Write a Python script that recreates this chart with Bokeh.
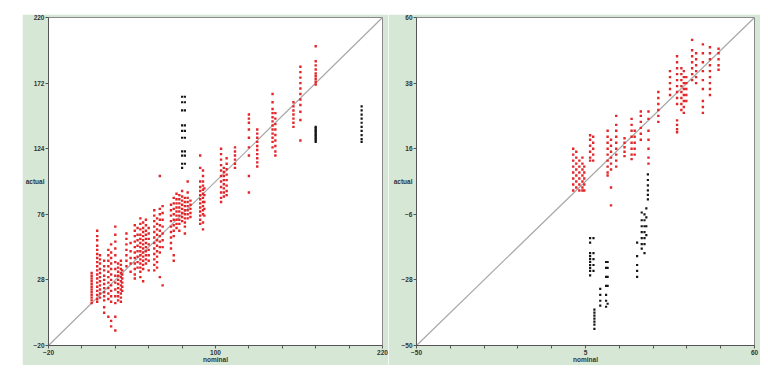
from bokeh.plotting import figure
from bokeh.layouts import row, column, Spacer
from bokeh.models import Range1d, FixedTicker, ColumnDataSource
from bokeh.embed import file_html
from bokeh.resources import INLINE

# ---------------- data ----------------
# left panel range / ticks
L_RANGE = [-20, 220]
L_XTICKS = [-20, 100, 220]
L_XMINOR = [4, 28, 52, 76, 124, 148, 172, 196]
L_YTICKS = [-20, 28, 76, 124, 172, 220]

# left panel red strips: nominal value, actual values
L_red_x = [11, 15, 17, 20, 23, 25, 28, 30, 32, 33, 36, 39, 42, 44, 46, 48, 50, 52,
           56, 58, 60, 62, 68, 70, 72, 74, 76, 78, 80, 82, 89, 91, 92, 104, 106, 108,
           114, 124, 130, 141, 143, 156, 161, 172]
L_red_y = [
    [33, 31, 29, 27, 25, 23, 21, 19, 17, 15, 13, 11],
    [64, 60, 57, 53, 50, 47, 44, 41, 38, 35, 32, 29, 26, 23, 20, 17, 14, 12],
    [46, 43, 40, 36, 33, 30, 27, 24, 21, 18, 15],
    [42, 38, 35, 31, 28, 25, 22, 19, 16, 13, 8, 4],
    [50, 46, 42, 38, 34, 30, 26, 22, 18, 14, 1],
    [54, 48, 44, 40, 36, 32, 28, 24, 20, 16, 12, -2, -6],
    [67, 61, 56, 51, 46, 41, 36, 31, 26, 21, 16, 11, 1, -9],
    [40, 37, 34, 31, 28, 25, 22, 19, 16, 13],
    [42, 39, 36, 33, 30, 27, 24, 21, 18, 15, 12],
    [35, 32, 29, 26, 23, 20],
    [62, 58, 54, 50, 46, 42, 38],
    [55, 49, 44, 40, 34],
    [68, 64, 60, 56, 52, 48, 44, 40, 36, 32, 29],
    [66, 61, 57, 53, 49, 45, 41, 37],
    [73, 69, 65, 61, 58, 55, 52, 49, 46, 43, 40, 37, 34, 30],
    [70, 66, 63, 60, 57, 54, 51, 48, 45, 42, 39, 36, 27],
    [72, 68, 64, 61, 58, 55, 52, 49, 46, 43, 40],
    [66, 62, 58, 54, 50, 46, 42, 35],
    [79, 75, 71, 67, 63, 59, 55, 51, 47, 43, 39, 35],
    [73, 69, 65, 61, 57, 53, 49, 45, 41, 37],
    [104, 80, 76, 72, 68, 64, 60, 56, 52, 48, 30],
    [82, 77, 72, 67, 62, 57, 52, 24],
    [83, 79, 75, 71, 67, 63, 59, 55, 51],
    [88, 84, 80, 76, 72, 68, 64, 60, 46, 42],
    [91, 87, 84, 81, 78, 75, 72, 69, 66],
    [90, 87, 84, 81, 78, 75, 72, 69, 64],
    [93, 89, 86, 83, 80, 77, 74, 71],
    [88, 85, 82, 79, 76, 73, 70, 67, 62],
    [100, 92, 88, 85, 82, 79, 76, 73],
    [86, 83, 80, 77, 74],
    [119, 110, 100, 96, 93, 90, 87, 84, 81, 78, 75, 72, 69],
    [108, 104, 100, 97, 94, 91, 88, 85, 82, 79, 76, 70, 65],
    [95, 90, 85, 80, 75],
    [124, 120, 116, 112, 108, 104, 100, 96, 92, 88, 85],
    [110, 107, 104, 101, 98, 95, 92, 89],
    [117, 113, 109, 105, 101, 97, 93, 90],
    [125, 122, 119, 116, 113, 110],
    [149, 146, 143, 138, 132, 125, 119, 104, 92],
    [138, 135, 132, 129, 126, 123, 120, 117, 114, 111],
    [164, 158, 153, 150, 147, 144, 141, 138, 135, 132, 129, 125],
    [150, 146, 142, 138, 134, 130, 126, 122, 119],
    [158, 155, 152, 149, 146, 143, 140],
    [184, 180, 176, 172, 168, 164, 160, 156, 151, 145, 130],
    [199, 188, 185, 182, 179, 177, 175, 173, 171],
]

# left panel black strips
L_blk_x = [76, 78, 172, 205]
L_blk_y = [
    [162, 158, 152, 141, 137, 132, 122, 119, 113, 110],
    [162, 158, 152, 141, 137, 132, 122, 119, 113],
    [140, 139, 138, 137, 136, 135, 134, 133, 132, 131, 130, 129],
    [155, 152, 149, 146, 143, 140, 137, 134, 131, 129],
]

# right panel range / ticks
R_RANGE = [-50, 60]
R_XTICKS = [-50, 5, 60]
R_XMINOR = [-39, -28, -17, -6, 16, 27, 38, 49]
R_YTICKS = [-50, -28, -6, 16, 38, 60]

R_red_x = [1, 2, 3, 4, 4.6, 6.5, 7.5, 12.2, 13.3, 15, 17.7, 20, 21, 23, 25.5, 28.7,
           32.5, 34.8, 36.2, 37, 37.8, 39.7, 41, 43.2, 45.5, 48.3]
R_red_y = [
    [16, 14, 12, 10, 8, 6, 4, 2],
    [15, 13, 11, 9, 7, 5, 3],
    [12, 10, 8, 6, 4, 2],
    [13, 11, 9, 7, 5, 3, 2],
    [10, 8, 6, 4, 2],
    [20.5, 19, 17, 15, 13, 12],
    [20, 18, 16, 14, 12],
    [22, 20, 18, 16, 14, 12, 10, 8, 7],
    [19, 17, 15, 13, 11, 9, 3, -3],
    [27, 24, 22, 20, 18, 16, 14, 12, 10],
    [19.5, 18, 16.5, 15, 13.5],
    [26, 24, 22, 20, 18, 16, 14, 12.5],
    [22, 20, 18, 16, 14],
    [28.5, 27, 25, 23, 21, 19],
    [28.5, 26, 22, 19, 16, 13, 11],
    [35, 33, 31, 29, 27, 25],
    [42, 40, 38, 36, 34],
    [47, 45, 43, 41, 39, 37, 35, 33, 31, 25.5, 24, 22.5, 21.5],
    [43, 41, 39, 37, 35, 33, 31, 29],
    [42, 40, 38, 36, 34, 32, 30, 28],
    [40, 38, 36, 34, 32],
    [52.5, 49, 47, 45, 43, 41, 39],
    [48, 46, 44, 42, 40, 38],
    [51, 48, 45, 42, 39, 36, 32, 30, 28],
    [50, 48, 46, 44, 42, 40, 38, 36, 34],
    [49.5, 48, 46, 44, 42.5],
]

R_blk_x = [6.5, 7.6, 7.9, 9.8, 11.7, 12.2, 21.8, 23.3, 24.2, 24.8, 25.3]
R_blk_y = [
    [-14, -15.5, -19, -20, -21, -22, -23, -24, -25, -26.5],
    [-14, -19, -21, -23, -25],
    [-38, -39, -40, -41, -42, -43, -44.4],
    [-31, -33, -35, -36.6],
    [-22, -24, -27, -30, -33, -35, -37],
    [-22, -24, -27, -30, -36],
    [-15.5, -20, -23, -25, -27],
    [-5.4, -8, -10, -12, -14, -16, -17.5],
    [-6, -8, -10, -12, -14, -16, -19],
    [-4, -7, -10, -13],
    [7.4, 5.5, 3.7, 2, 0.5, -1],
]

X_TITLE = "nominal"
Y_TITLE = "actual"

# ---------------- styling ----------------
RED = "#e3262a"
BLACK = "#151515"
GREEN = "#d7e7d5"
FONT = "Liberation Sans"


def flatten(xs, ys):
    fx, fy = [], []
    for x, col in zip(xs, ys):
        for y in col:
            fx.append(x)
            fy.append(y)
    return dict(x=fx, y=fy)


def make_panel(rng, xticks, xminor, yticks, red_x, red_y, blk_x, blk_y,
               width, height, bl, br, bt, bb):
    p = figure(width=width, height=height, output_backend="svg",
               toolbar_location=None,
               x_range=Range1d(rng[0], rng[1]), y_range=Range1d(rng[0], rng[1]),
               min_border_left=bl, min_border_right=br,
               min_border_top=bt, min_border_bottom=bb)
    p.background_fill_color = "white"
    p.border_fill_color = GREEN
    p.outline_line_color = "#8a8a8a"
    p.outline_line_width = 1
    p.grid.visible = False

    p.line(x=rng, y=rng, line_color="#a8a8a8", line_width=1.2)
    p.scatter("x", "y", source=ColumnDataSource(flatten(red_x, red_y)),
              marker="square", size=2.4, fill_color=RED, line_color=None)
    p.scatter("x", "y", source=ColumnDataSource(flatten(blk_x, blk_y)),
              marker="square", size=2.2, fill_color=BLACK, line_color=None)

    p.xaxis.ticker = FixedTicker(ticks=xticks, minor_ticks=xminor)
    p.yaxis.ticker = FixedTicker(ticks=yticks, minor_ticks=[])
    for ax in (p.xaxis[0], p.yaxis[0]):
        ax.axis_line_color = "#555555"
        ax.major_tick_line_color = "#555555"
        ax.minor_tick_line_color = "#555555"
        ax.major_tick_in = 0
        ax.major_tick_out = 3
        ax.minor_tick_in = 0
        ax.minor_tick_out = 3
        ax.major_label_text_font = FONT
        ax.major_label_text_font_size = "6.5px"
        ax.major_label_text_font_style = "bold"
        ax.major_label_text_color = "#333333"
        ax.major_label_standoff = 1
        ax.axis_label_text_font = FONT
        ax.axis_label_text_font_size = "6.5px"
        ax.axis_label_text_font_style = "bold"
        ax.axis_label_text_color = "#333333"
    p.xaxis.axis_label = X_TITLE
    p.xaxis.axis_label_standoff = -2
    p.yaxis.axis_label = Y_TITLE
    p.yaxis.axis_label_orientation = "horizontal"
    p.yaxis.axis_label_standoff = -14
    return p


p1 = make_panel(L_RANGE, L_XTICKS, L_XMINOR, L_YTICKS, L_red_x, L_red_y,
                L_blk_x, L_blk_y, 366, 351, 26, 6, 2, 20)
p2 = make_panel(R_RANGE, R_XTICKS, R_XMINOR, R_YTICKS, R_red_x, R_red_y,
                R_blk_x, R_blk_y, 372, 351, 28, 6, 3, 18)

layout = column(Spacer(height=14),
                row(Spacer(width=22), p1, p2, spacing=0), spacing=0)

open("out.html", "w").write(file_html(layout, INLINE))
